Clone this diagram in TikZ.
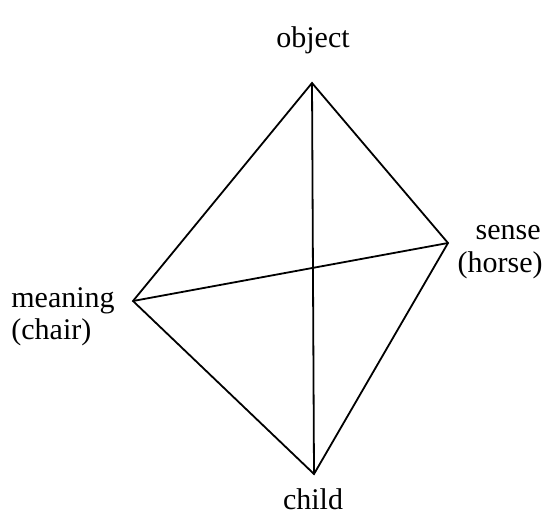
\documentclass[tikz,border=0pt]{standalone}
\usepackage{fontspec}
\setmainfont{Liberation Serif}
\usepackage{tikz}

\begin{document}
\begin{tikzpicture}[
    x=0.5pt, y=-0.5pt,
    edge/.style={line width=0.9pt, line join=miter},
    lbl/.style={inner sep=0pt, font=\fontsize{15}{17}\selectfont}
]
\useasboundingbox (0,0) rectangle (545,519);

% corners of the tetrahedron
\coordinate (object) at (312,83);
\coordinate (sense) at (448,243);
\coordinate (meaning) at (133,301);
\coordinate (child) at (314,474);

% edges
\draw[edge] (object) -- (meaning) -- (child) -- (sense) -- cycle;
\draw[edge] (object) -- (child);
\draw[edge] (meaning) -- (sense);

% labels
\node[lbl, anchor=base] (l_obj) at (313,48) {object};
\node[lbl, anchor=base] (l_child) at (313,509) {child};
\node[lbl, anchor=base east] (l_sense) at (541,239) {sense};
\node[lbl, anchor=base east] (l_horse) at (543,272) {(horse)};
\node[lbl, anchor=base west] (l_mean) at (11,307) {meaning};
\node[lbl, anchor=base west] (l_chair) at (11,339) {(chair)};

\end{tikzpicture}
\end{document}
